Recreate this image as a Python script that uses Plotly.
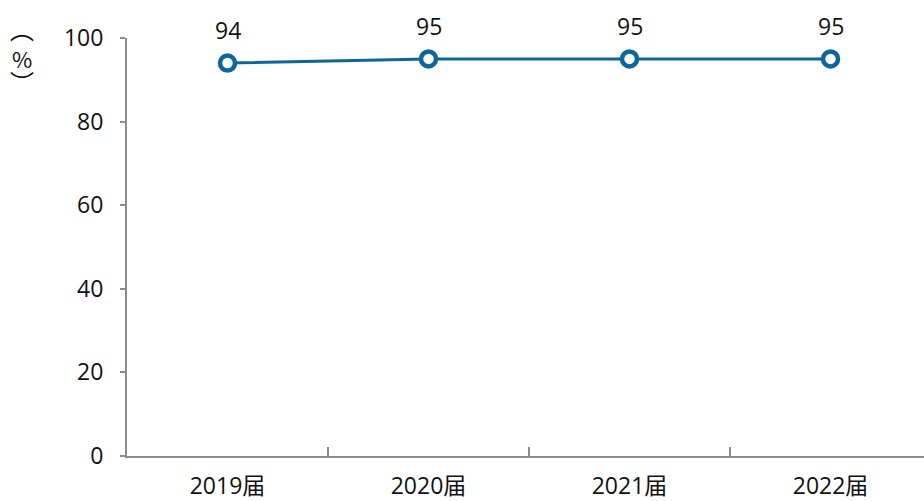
import plotly.graph_objects as go

categories = ["2019届", "2020届", "2021届", "2022届"]
values = [94, 95, 95, 95]
label_text = ["94", "95", "95", "95"]
y_ticks = [0, 20, 40, 60, 80, 100]

FONT = "Open Sans, Noto Sans CJK SC, sans-serif"
LINE = "#0b6699"
AXIS = "#8c8c8c"
TXT = "#111111"

xpos = list(range(len(categories)))

fig = go.Figure()
fig.add_trace(go.Scatter(
    x=xpos, y=values, mode="lines+markers",
    line=dict(color=LINE, width=3),
    marker=dict(size=15, color="white", line=dict(color=LINE, width=4.5)),
    hoverinfo="skip", showlegend=False,
))

for x, v, t in zip(xpos, values, label_text):
    fig.add_annotation(x=x, y=v, text=t, showarrow=False, yshift=33,
                       font=dict(family=FONT, size=23, color=TXT))

# vertical y-axis unit label "（%）" drawn as stacked vertical-form glyphs
unit_parts = [("︵", 1.022, 24), ("%", 0.952, 22), ("︶", 0.895, 24)]
for txt, yy, sz in unit_parts:
    fig.add_annotation(xref="paper", yref="paper", x=-0.132, y=yy,
                       xanchor="center", yanchor="middle", showarrow=False,
                       text=txt,
                       font=dict(family="Noto Sans CJK SC", size=sz, color=TXT))

fig.update_layout(
    width=924, height=501,
    margin=dict(l=127, r=0, t=38, b=45, autoexpand=False),
    plot_bgcolor="white", paper_bgcolor="white",
    font=dict(family=FONT, size=23, color=TXT),
    xaxis=dict(
        range=[-0.5, 3.465], tickmode="array", tickvals=xpos, ticktext=categories,
        ticks="", showgrid=False, zeroline=False, automargin=False,
        showline=True, linecolor=AXIS, linewidth=2,
        tickfont=dict(family=FONT, size=23, color=TXT),
        minor=dict(tickmode="array", tickvals=[0.5, 1.5, 2.5], ticks="inside",
                   ticklen=9, tickcolor=AXIS, tickwidth=2, showgrid=False),
        ticklabelstandoff=8,
    ),
    yaxis=dict(
        range=[0, 100], tickmode="array", tickvals=y_ticks,
        ticks="outside", ticklen=5, tickcolor=AXIS, tickwidth=2,
        showgrid=False, zeroline=False, automargin=False,
        showline=True, linecolor=AXIS, linewidth=2,
        tickfont=dict(family=FONT, size=23, color=TXT),
        ticklabelstandoff=12,
    ),
)

fig.write_html(
    "out.html",
    config={"displayModeBar": False},
    post_script="document.body.style.margin='0';document.body.style.overflow='hidden';",
)
